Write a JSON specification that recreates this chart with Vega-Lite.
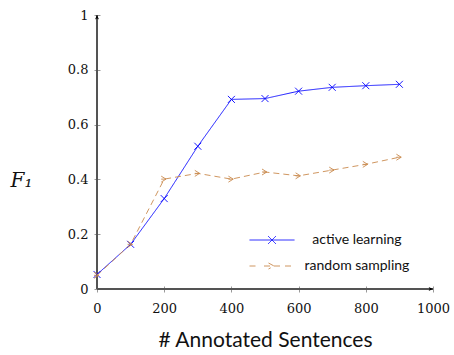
{
  "$schema": "https://vega.github.io/schema/vega-lite/v6.json",
  "width": 336,
  "height": 274,
  "padding": {"left": 97, "top": 15, "right": 21, "bottom": 66},
  "autosize": {"type": "none"},
  "background": "white",
  "config": {"view": {"stroke": null}},
  "datasets": {
    "f1": [
      {"n": 0, "f1": 0.053, "series": "active learning"},
      {"n": 100, "f1": 0.163, "series": "active learning"},
      {"n": 200, "f1": 0.33, "series": "active learning"},
      {"n": 300, "f1": 0.521, "series": "active learning"},
      {"n": 400, "f1": 0.692, "series": "active learning"},
      {"n": 500, "f1": 0.695, "series": "active learning"},
      {"n": 600, "f1": 0.722, "series": "active learning"},
      {"n": 700, "f1": 0.736, "series": "active learning"},
      {"n": 800, "f1": 0.742, "series": "active learning"},
      {"n": 900, "f1": 0.747, "series": "active learning"},
      {"n": 0, "f1": 0.05, "series": "random sampling"},
      {"n": 100, "f1": 0.163, "series": "random sampling"},
      {"n": 200, "f1": 0.401, "series": "random sampling"},
      {"n": 300, "f1": 0.422, "series": "random sampling"},
      {"n": 400, "f1": 0.401, "series": "random sampling"},
      {"n": 500, "f1": 0.427, "series": "random sampling"},
      {"n": 600, "f1": 0.413, "series": "random sampling"},
      {"n": 700, "f1": 0.434, "series": "random sampling"},
      {"n": 800, "f1": 0.455, "series": "random sampling"},
      {"n": 900, "f1": 0.481, "series": "random sampling"}
    ],
    "xend": [{"n": 1000, "f1": 0}],
    "yend": [{"n": 0, "f1": 1}]
  },
  "layer": [
    {
      "data": {"name": "f1"},
      "mark": {"type": "rule", "color": "#555", "strokeWidth": 1},
      "encoding": {"y": {"datum": 0, "type": "quantitative", "scale": {"domain": [0, 1]}}}
    },
    {
      "data": {"name": "f1"},
      "mark": {"type": "rule", "color": "#555", "strokeWidth": 1},
      "encoding": {"x": {"datum": 0, "type": "quantitative", "scale": {"domain": [0, 1000]}}}
    },
    {
      "data": {"name": "f1"},
      "mark": {"type": "line", "strokeWidth": 0.9},
      "encoding": {
        "x": {
          "field": "n", "type": "quantitative",
          "scale": {"domain": [0, 1000], "nice": false},
          "axis": {
            "values": [0, 200, 400, 600, 800, 1000],
            "format": "d",
            "offset": -3, "tickSize": 6, "tickColor": "#999", "domain": false, "grid": false,
            "labelFont": "DejaVu Serif", "labelFontSize": 13, "labelColor": "#111", "labelPadding": 10,
            "labelFlush": false,
            "title": "# Annotated Sentences", "titleFont": "Lato", "titleFontSize": 21, "titleFontWeight": "normal",
            "titleColor": "#111", "titlePadding": 14
          }
        },
        "y": {
          "field": "f1", "type": "quantitative",
          "scale": {"domain": [0, 1], "nice": false},
          "axis": {
            "values": [0, 0.2, 0.4, 0.6, 0.8, 1],
            "format": "~g",
            "offset": -3, "tickSize": 6, "tickColor": "#999", "domain": false, "grid": false,
            "labelFont": "DejaVu Serif", "labelFontSize": 13, "labelColor": "#111", "labelPadding": 6,
            "labelFlush": false,
            "title": "F₁", "titleFont": "DejaVu Serif", "titleFontStyle": "italic", "titleFontSize": 20,
            "titleFontWeight": "normal", "titleColor": "#111", "titleAngle": 0,
            "titleX": -79, "titleY": 165, "titleAlign": "center", "titleBaseline": "middle"
          }
        },
        "color": {
          "field": "series", "type": "nominal",
          "scale": {"domain": ["active learning", "random sampling"], "range": ["#0000ff", "#c98a4e"]},
          "legend": {
            "title": null, "orient": "none", "legendX": 168, "legendY": 218,
            "symbolSize": 100, "symbolStrokeWidth": 0.9, "symbolFillColor": "transparent",
            "labelFont": "Lato", "labelFontSize": 14, "labelColor": "#111", "labelAlign": "center",
            "labelOffset": 78, "rowPadding": 12, "padding": 0,
            "encode": {
              "symbols": {
                "update": {
                  "shape": {"signal": "datum.value === 'active learning' ? 'M-4.5,0H4.5M-0.8,-0.8L0.8,0.8M-0.8,0.8L0.8,-0.8' : 'M-4.5,0H-2.6M-1.6,0H1.6M2.6,0H4.5M-0.7,-0.6L0.4,0L-0.7,0.6'"},
                  "strokeDash": {"value": []}
                }
              }
            }
          }
        },
        "strokeDash": {
          "field": "series", "type": "nominal",
          "scale": {"domain": ["active learning", "random sampling"], "range": [[1, 0], [6, 4]]},
          "legend": null
        }
      }
    },
    {
      "data": {"name": "f1"},
      "transform": [{"filter": "datum.series === 'active learning'"}],
      "mark": {"type": "point", "shape": "M-1,-1L1,1M-1,1L1,-1", "size": 49, "filled": false, "strokeWidth": 0.9, "opacity": 1},
      "encoding": {
        "x": {"field": "n", "type": "quantitative"},
        "y": {"field": "f1", "type": "quantitative"},
        "color": {"field": "series", "type": "nominal"}
      }
    },
    {
      "data": {"name": "f1"},
      "transform": [{"filter": "datum.series === 'random sampling'"}],
      "mark": {"type": "point", "shape": "M-1,-1L0.6,0L-1,1M-1,0L0.6,0", "size": 36, "filled": false, "strokeWidth": 0.9, "opacity": 1},
      "encoding": {
        "x": {"field": "n", "type": "quantitative"},
        "y": {"field": "f1", "type": "quantitative"},
        "color": {"field": "series", "type": "nominal"}
      }
    },
    {
      "data": {"name": "xend"},
      "mark": {"type": "point", "shape": "M-2.2,-1L0,0L-2.2,1L-1.6,0Z", "size": 16, "filled": true, "color": "black", "opacity": 1},
      "encoding": {
        "x": {"field": "n", "type": "quantitative"},
        "y": {"field": "f1", "type": "quantitative"}
      }
    },
    {
      "data": {"name": "yend"},
      "mark": {"type": "point", "shape": "M-1,2.2L0,0L1,2.2L0,1.6Z", "size": 16, "filled": true, "color": "black", "opacity": 1},
      "encoding": {
        "x": {"field": "n", "type": "quantitative"},
        "y": {"field": "f1", "type": "quantitative"}
      }
    }
  ]
}
